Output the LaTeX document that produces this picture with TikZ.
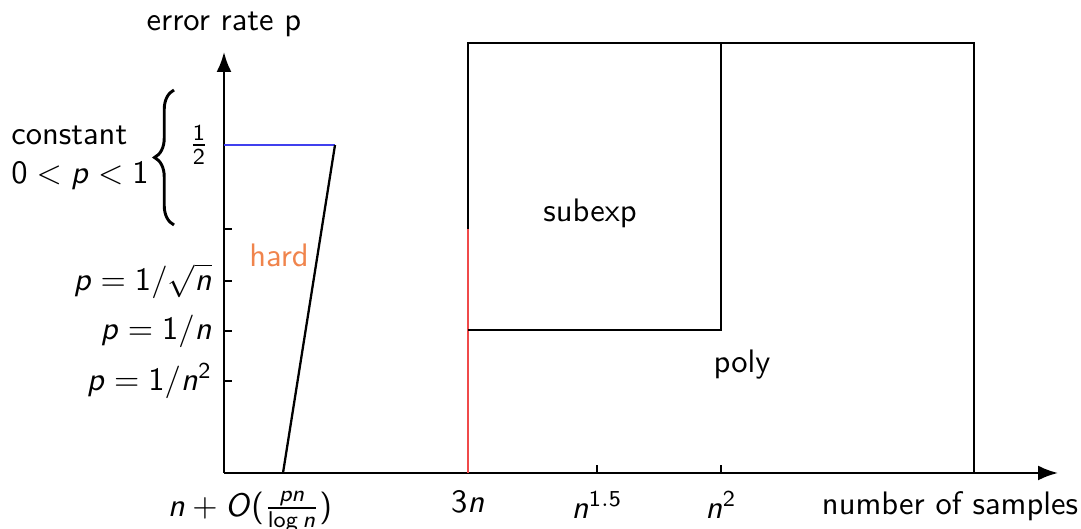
\documentclass[tikz,border=0pt]{standalone}
\usepackage{amsmath}
\usepackage{tikz}
\usetikzlibrary{positioning,arrows.meta,decorations.pathreplacing}
\renewcommand{\familydefault}{\sfdefault}
\DeclareSymbolFont{operators}{OT1}{cmss}{m}{n}
\DeclareSymbolFont{sfletters}{OT1}{cmss}{m}{sl}
\DeclareMathSymbol{p}{\mathalpha}{sfletters}{`p}
\DeclareMathSymbol{n}{\mathalpha}{sfletters}{`n}
\DeclareMathSymbol{O}{\mathalpha}{sfletters}{`O}
\definecolor{PlotBlue}{HTML}{4040EE}
\definecolor{PlotRed}{HTML}{F04A4A}
\definecolor{PlotOrange}{HTML}{F0844C}

\begin{document}
\begin{tikzpicture}[>=Latex,x=0.0108cm,y=0.0108cm,line width=0.7pt,
 tickl/.style={anchor=east},
 xlab/.style={below=2pt},
 region/.style={font=\normalsize}]
\useasboundingbox (0,0) rectangle (1081,529);
\coordinate (o) at (224,56);
\coordinate (ytop) at (224,477);
\coordinate (xend) at (1058,56);
\coordinate (half) at (224,384);
\coordinate (hardtop) at (335,384);
\coordinate (hardbot) at (283,56);
\coordinate (lo) at (468,56);
\coordinate (mid) at (468,300);
\coordinate (sw) at (468,199);
\coordinate (nw) at (468,486);
\coordinate (ne) at (974,486);
\coordinate (se) at (974,56);
\coordinate (inne) at (721,486);
\coordinate (inse) at (721,199);

% axes
\draw[->] (o) -- (ytop) node[above=1pt] (ylab) {error rate p};
\draw[->] (o) -- (xend);
\node[xlab] (xlab) at (950,56) {number of samples};

% ticks on the error axis
\draw (224,300) -- ++(8,0);
\foreach \py/\lab in {248/{$p=1/\sqrt{n}$},198/{$p=1/n$},148/{$p=1/n^2$}}
  \draw (224,\py) node[tickl] {\lab} -- ++(8,0);
\node (halflab) at (199,384) {$\frac{1}{2}$};
\draw[decorate,decoration={brace,amplitude=6pt},line width=0.9pt] (174,304) -- (174,439)
  node[midway,left=4pt,align=left] (const) {constant\\$0<p<1$};

% ticks on the samples axis
\foreach \px/\lab in {597/{$n^{1.5}$},721/{$n^2$}}
  \draw (\px,56) -- ++(0,8) node[pos=0,xlab] {\lab};
\node[xlab] (three) at (468,56) {$3n$};
\node[xlab] (bound) at (250,56) {$n+O(\frac{pn}{\log n})$};

% hard region
\draw[PlotBlue] (half) -- (hardtop);
\draw (hardbot) -- (hardtop);
\node[text=PlotOrange] (hard) at (279,274) {hard};

% algorithm regions
\draw[PlotRed] (lo) -- (mid);
\draw (mid) -- (nw) -- (ne) -- (se);
\draw (inne) -- (inse) -- (sw);
\node[region] (subexp) at (590,316) {subexp};
\node[region] (poly) at (742,164) {poly};
\end{tikzpicture}
\end{document}
